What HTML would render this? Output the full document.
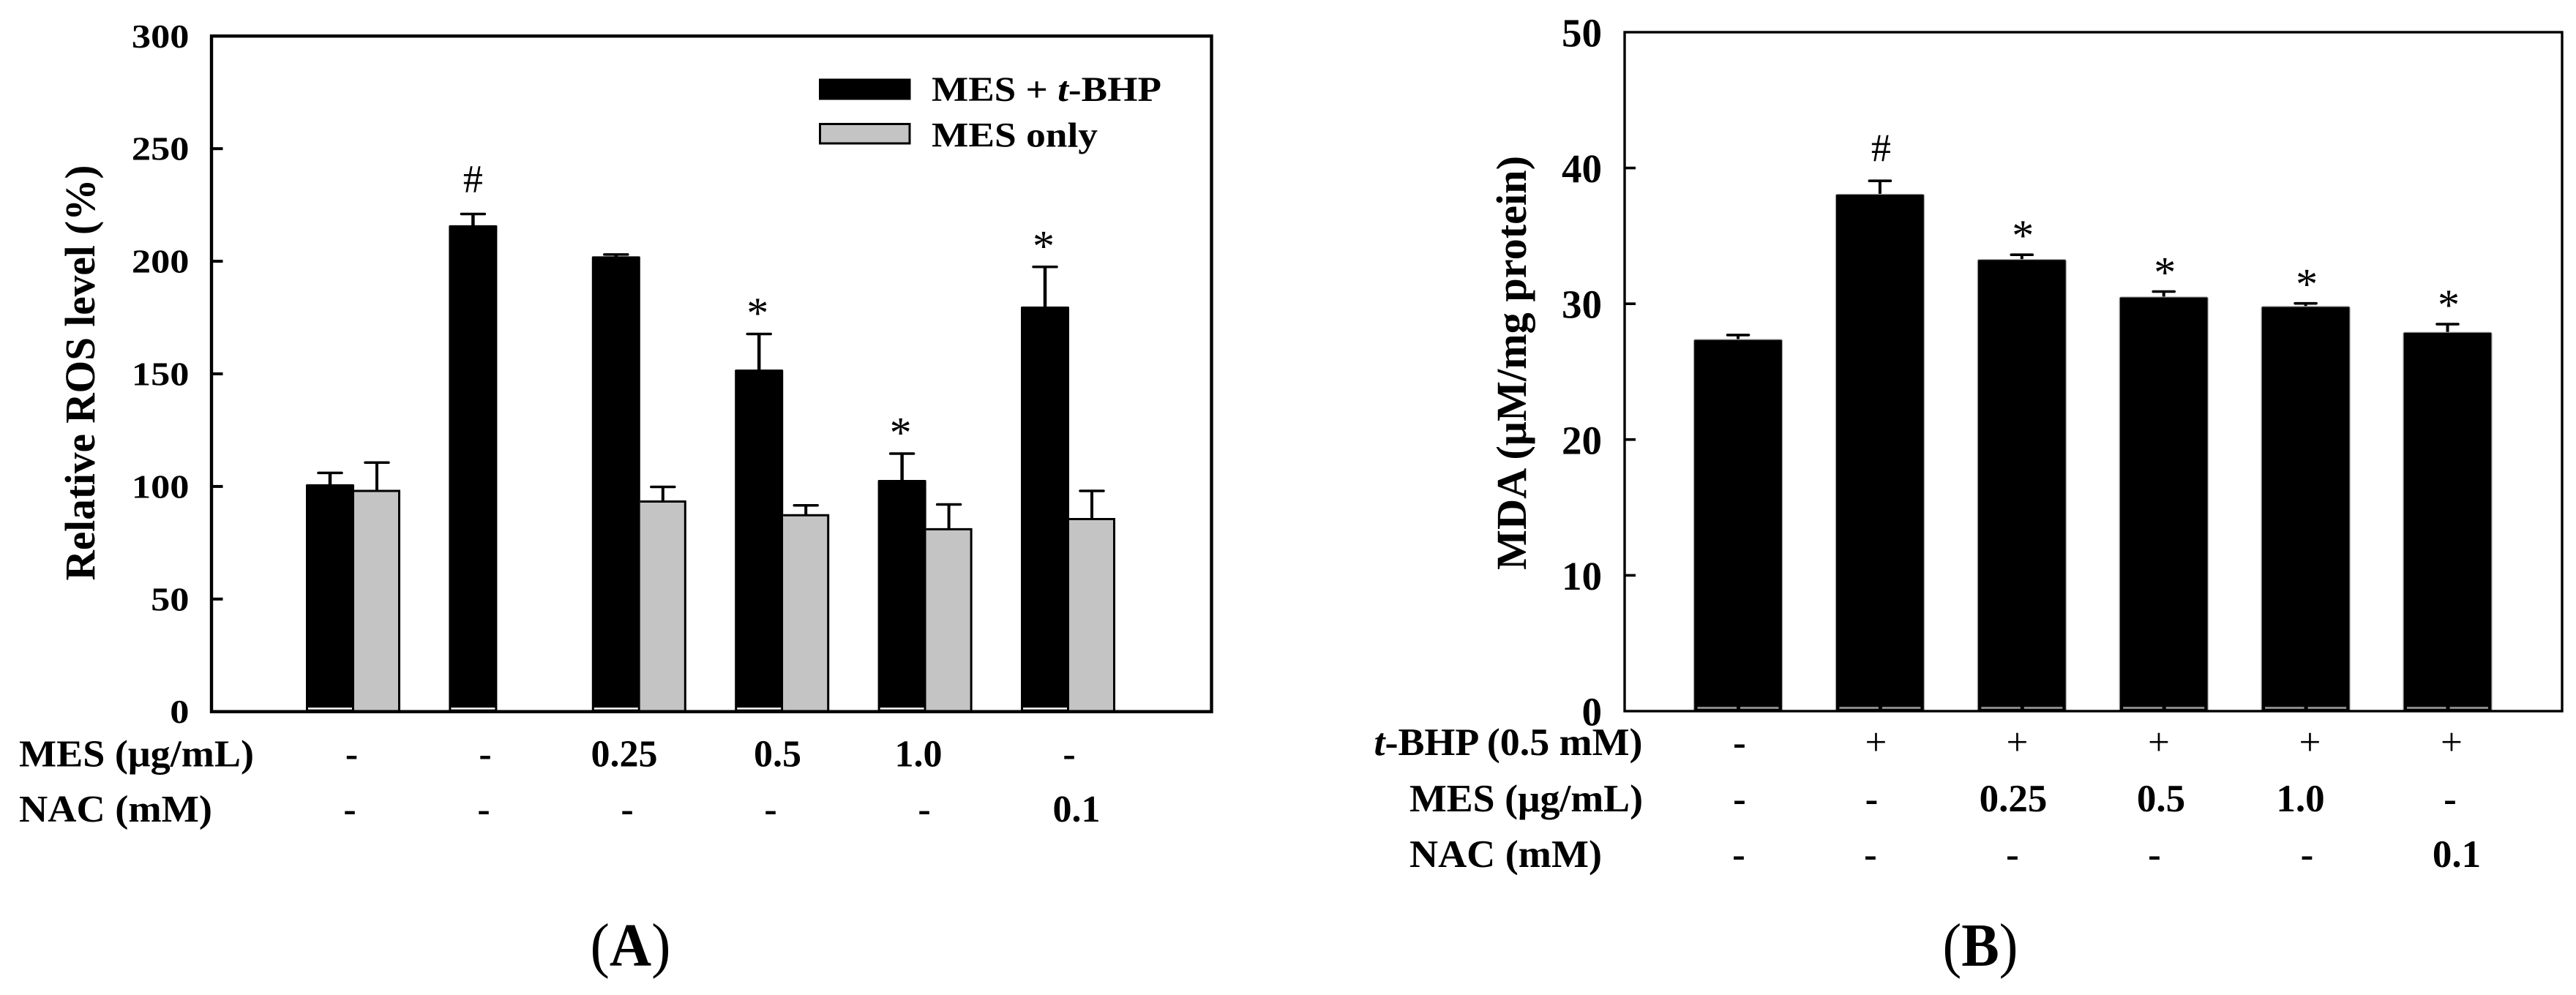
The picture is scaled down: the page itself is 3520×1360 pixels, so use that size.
<!DOCTYPE html>
<html lang="en">
<head>
<meta charset="utf-8">
<title>ROS and MDA bar charts</title>
<style>
html,body{margin:0;padding:0;background:#fff;width:3520px;height:1360px;overflow:hidden}
svg{display:block}
text{font-family:"Liberation Serif",serif;fill:#000}
.b{font-weight:700}
</style>
</head>
<body>
<svg id="figure" xmlns="http://www.w3.org/2000/svg" width="3520" height="1360" viewBox="0 0 3520 1360">
  <rect x="0" y="0" width="3520" height="1360" fill="#fff"/>
  <g id="panelA"></g>
  <g id="panelB"></g>

  <text class="b" font-size="58" text-anchor="middle" textLength="568" lengthAdjust="spacingAndGlyphs" transform="translate(129,509.5) rotate(-90)">Relative ROS level (%)</text>
  <text class="b" font-size="58" text-anchor="middle" textLength="566" lengthAdjust="spacingAndGlyphs" transform="translate(2085,496) rotate(-90)">MDA (μM/mg protein)</text>

  <g>
    <rect x="1119" y="107.5" width="125.5" height="29" fill="#000"/>
    <text class="b" x="1273" y="138" font-size="48" textLength="314" lengthAdjust="spacingAndGlyphs">MES + <tspan font-style="italic">t</tspan>-BHP</text>
    <rect x="1120.5" y="169.5" width="122.5" height="26.5" fill="#c4c4c4" stroke="#000" stroke-width="3"/>
    <text class="b" x="1273" y="200.5" font-size="48" textLength="227" lengthAdjust="spacingAndGlyphs">MES only</text>
  </g>

  <g class="b" font-size="52" text-anchor="middle">
    <text x="26" y="1047.5" text-anchor="start" textLength="321" lengthAdjust="spacingAndGlyphs">MES (μg/mL)</text>
    <text x="480.5" y="1047.5">-</text>
    <text x="663" y="1047.5">-</text>
    <text x="853" y="1047.5">0.25</text>
    <text x="1062.5" y="1047.5">0.5</text>
    <text x="1255" y="1047.5">1.0</text>
    <text x="1461" y="1047.5">-</text>
    <text x="26" y="1123" text-anchor="start" textLength="264" lengthAdjust="spacingAndGlyphs">NAC (mM)</text>
    <text x="478" y="1123">-</text>
    <text x="661" y="1123">-</text>
    <text x="857" y="1123">-</text>
    <text x="1053" y="1123">-</text>
    <text x="1263" y="1123">-</text>
    <text x="1471" y="1123">0.1</text>
  </g>

  <g class="b" font-size="53" text-anchor="middle">
    <text x="1877.5" y="1032" text-anchor="start" textLength="367" lengthAdjust="spacingAndGlyphs"><tspan font-style="italic">t</tspan>-BHP (0.5 mM)</text>
    <text x="2377" y="1032">-</text>
    <text x="2563.5" y="1032" font-weight="400">+</text>
    <text x="2756.5" y="1032" font-weight="400">+</text>
    <text x="2950" y="1032" font-weight="400">+</text>
    <text x="3156.5" y="1032" font-weight="400">+</text>
    <text x="3350" y="1032" font-weight="400">+</text>
    <text x="1926" y="1109" text-anchor="start" textLength="319" lengthAdjust="spacingAndGlyphs">MES (μg/mL)</text>
    <text x="2377" y="1109">-</text>
    <text x="2557.5" y="1109">-</text>
    <text x="2751" y="1109">0.25</text>
    <text x="2953" y="1109">0.5</text>
    <text x="3143.5" y="1109">1.0</text>
    <text x="3348" y="1109">-</text>
    <text x="1926" y="1185" text-anchor="start" textLength="263" lengthAdjust="spacingAndGlyphs">NAC (mM)</text>
    <text x="2376" y="1185">-</text>
    <text x="2556" y="1185">-</text>
    <text x="2750" y="1185">-</text>
    <text x="2944" y="1185">-</text>
    <text x="3152.5" y="1185">-</text>
    <text x="3357" y="1185">0.1</text>
  </g>

  <text x="806.5" y="1320" font-size="84" textLength="110" lengthAdjust="spacingAndGlyphs">(<tspan class="b">A</tspan>)</text>
  <text x="2654.5" y="1320" font-size="84" textLength="103" lengthAdjust="spacingAndGlyphs">(<tspan class="b">B</tspan>)</text>
</svg>

<script>
// Panel A data: relative ROS level (%)
const aTickValues = [0, 50, 100, 150, 200, 250, 300];
const aTickLabels = ["0", "50", "100", "150", "200", "250", "300"];
const aCategories = ["control", "tbhp", "mes-0.25", "mes-0.5", "mes-1.0", "nac-0.1"];
const aMesTbhp = [101, 216, 202.2, 151.9, 102.9, 179.9];
const aMesTbhpErr = [5, 5, 0.8, 15.8, 11.7, 17.6];
const aMesOnly = [98, null, 93.3, 87.2, 81, 85.5];
const aMesOnlyErr = [12.6, null, 6.5, 4.4, 11, 12.5];
const aMarks = ["", "#", "", "*", "*", "*"];

// Panel B data: MDA (uM/mg protein)
const bTickValues = [0, 10, 20, 30, 40, 50];
const bTickLabels = ["0", "10", "20", "30", "40", "50"];
const bCategories = ["control", "tbhp", "mes-0.25", "mes-0.5", "mes-1.0", "nac-0.1"];
const bMda = [27.37, 38.07, 33.26, 30.5, 29.8, 27.9];
const bMdaErr = [0.33, 0.98, 0.35, 0.4, 0.23, 0.6];
const bMarks = ["", "#", "*", "*", "*", "*"];

// Axis functions
const axA = {left: 289, right: 1655.5, top: 49.3, base: 972.7, max: 300};
const axB = {left: 2220, right: 3501, top: 44, base: 972, max: 50};
function yA(v) { return axA.base - v / axA.max * (axA.base - axA.top); }
function yB(v) { return axB.base - v / axB.max * (axB.base - axB.top); }
function xA(i) { return 484 + 195.4 * i; }
function xB(i) { return 2375 + 193.9 * i; }

const NS = "http://www.w3.org/2000/svg";
function make(tag, attrs, parent) {
  const n = document.createElementNS(NS, tag);
  for (const k in attrs) n.setAttribute(k, attrs[k]);
  parent.appendChild(n);
  return n;
}

const gA = document.getElementById("panelA");
const gB = document.getElementById("panelB");

// ---------- Panel A ----------
aCategories.forEach(function (cat, i) {
  const c = xA(i);
  const blackX = c - 66;
  const blackW = 66;
  const blackTop = yA(aMesTbhp[i]);
  const errTop = yA(aMesTbhp[i] + aMesTbhpErr[i]);
  const stemX = c - 33;

  const stem = make("line", {x1: stemX, x2: stemX, y1: errTop, y2: blackTop + 2, stroke: "#000", "stroke-width": 4.5}, gA);
  
  
  const cap = make("line", {x1: stemX - 16, x2: stemX + 16, y1: errTop, y2: errTop, stroke: "#000", "stroke-width": 3.5, "stroke-linecap": "round"}, gA);
  
  

  const bar = make("rect", {x: blackX, y: blackTop, width: blackW, height: axA.base - blackTop, rx: 1.5, fill: "#000"}, gA);
  
  

  const strip = make("rect", {x: blackX + 3, y: axA.base - 5.5, width: blackW - 6, height: 2.5, fill: "#fff"}, gA);
  
  

  if (aMesOnly[i] !== null) {
    const grayTop = yA(aMesOnly[i]);
    const grayErrTop = yA(aMesOnly[i] + aMesOnlyErr[i]);
    const gStemX = c + 31;
    const gStem = make("line", {x1: gStemX, x2: gStemX, y1: grayErrTop, y2: grayTop + 3, stroke: "#000", "stroke-width": 4}, gA);
    
    
    const gCap = make("line", {x1: gStemX - 16, x2: gStemX + 16, y1: grayErrTop, y2: grayErrTop, stroke: "#000", "stroke-width": 3.5, "stroke-linecap": "round"}, gA);
    
    
    const gBar = make("path", {d: "M" + c + " " + grayTop + "H" + (c + 61.5) + "V" + axA.base + "H" + c + "Z", fill: "#c4c4c4"}, gA);
    
    
    const gEdge = make("path", {d: "M" + c + " " + grayTop + "H" + (c + 61.5) + "V" + axA.base, fill: "none", stroke: "#000", "stroke-width": 3}, gA);
    
    
  }

  if (aMarks[i]) {
    const isHash = aMarks[i] === "#";
    const mark = make("text", {x: stemX - 2 * (isHash ? 0 : 1) + (isHash ? 0 : 0), y: errTop + (isHash ? -30 : -8.5), "font-size": isHash ? 54 : 60, "text-anchor": "middle"}, gA);
    mark.textContent = aMarks[i];
    
    
  }
});

aTickValues.forEach(function (v, i) {
  const y = yA(v);
  if (v > 0 && v < axA.max) {
    const tick = make("line", {x1: axA.left, x2: axA.left + 15.5, y1: y, y2: y, stroke: "#000", "stroke-width": 4}, gA);
    
    
  }
  const label = make("text", {x: 258.5, y: y + 15.5, "font-size": 46, "font-weight": 700, "text-anchor": "end", textLength: aTickLabels[i].length * 26.2, lengthAdjust: "spacingAndGlyphs"}, gA);
  label.textContent = aTickLabels[i];
  
  
});

const frameA = make("rect", {x: axA.left, y: axA.top, width: axA.right - axA.left, height: axA.base - axA.top, fill: "none", stroke: "#000", "stroke-width": 4.4}, gA);



// ---------- Panel B ----------
bCategories.forEach(function (cat, i) {
  const c = xB(i);
  const top = yB(bMda[i]);
  const errTop = yB(bMda[i] + bMdaErr[i]);

  const stem = make("line", {x1: c, x2: c, y1: errTop, y2: top + 2, stroke: "#000", "stroke-width": 4}, gB);
  
  
  const cap = make("line", {x1: c - 14.5, x2: c + 14.5, y1: errTop, y2: errTop, stroke: "#000", "stroke-width": 3.6, "stroke-linecap": "round"}, gB);
  
  

  const bar = make("rect", {x: c - 60.5, y: top, width: 121, height: axB.base - top, rx: 2, fill: "#000", stroke: "#a8a8a8", "stroke-width": 1.2}, gB);
  
  

  const dashL = make("rect", {x: c - 55.5, y: axB.base - 6, width: 53.5, height: 3, fill: "#888"}, gB);
  
  
  const dashR = make("rect", {x: c + 3, y: axB.base - 6, width: 52.5, height: 3, fill: "#888"}, gB);
  
  

  if (bMarks[i]) {
    const isHash = bMarks[i] === "#";
    const mark = make("text", {x: c + 1.5, y: errTop + (isHash ? -27 : -6), "font-size": isHash ? 54 : 60, "text-anchor": "middle"}, gB);
    mark.textContent = bMarks[i];
    
    
  }
});

bTickValues.forEach(function (v, i) {
  const y = yB(v);
  if (v > 0 && v < axB.max) {
    const tick = make("line", {x1: axB.left, x2: axB.left + 15, y1: y, y2: y, stroke: "#000", "stroke-width": 3.6}, gB);
    
    
  }
  const label = make("text", {x: 2189, y: y + 19.5, "font-size": 55, "font-weight": 700, "text-anchor": "end"}, gB);
  label.textContent = bTickLabels[i];
  
  
});

const frameB = make("rect", {x: axB.left, y: axB.top, width: axB.right - axB.left, height: axB.base - axB.top, fill: "none", stroke: "#000", "stroke-width": 3.4}, gB);


</script>
</body>
</html>
